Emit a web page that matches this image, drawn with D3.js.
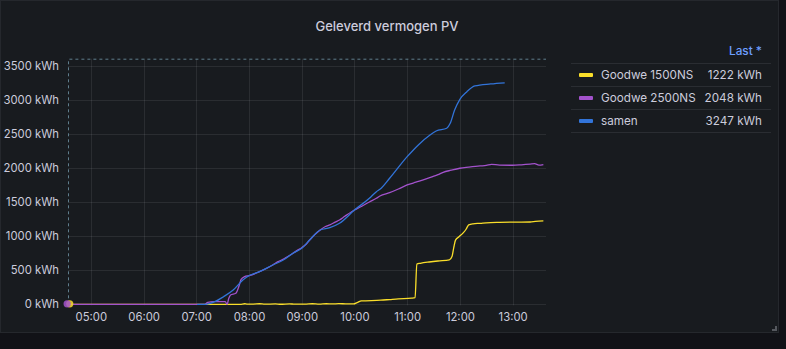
<!DOCTYPE html>
<html>
<head>
<meta charset="utf-8">
<script src="https://cdn.jsdelivr.net/npm/d3@7/dist/d3.min.js"></script>
<style>
  html, body { margin: 0; padding: 0; background: #111217; }
  svg { display: block; font-family: Inter, "Noto Sans", sans-serif; }
</style>
</head>
<body>
<svg id="chart" width="786" height="349"></svg>
<script>
// Cumulative delivered energy per inverter (kWh), sampled by time of day
const goodwe1500 = [
  ["04:36",0],["07:41",0],["07:50",0],["07:55",8],["07:58",2],["08:05",3],["08:12",8],["08:18",2],
  ["08:30",6],["08:36",1],["08:46",7],["08:52",2],["09:05",4],["09:12",8],["09:20",3],["09:28",8],
  ["09:35",6],["09:42",9],["09:50",7],["09:59",6],["10:03",25],["10:08",50],["10:30",60],["10:40",70],
  ["10:50",80],["11:05",90],["11:09",97],["11:11",590],["11:15",601],["11:25",620],["11:35",635],
  ["11:48",650],["11:51",700],["11:53",830],["11:55",940],["11:59",990],["12:04",1050],["12:07",1100],
  ["12:10",1165],["12:15",1180],["12:23",1187],["12:30",1195],["12:45",1202],["13:00",1205],
  ["13:20",1206],["13:26",1215],["13:35",1222]
];
const goodwe2500 = [
  ["04:36",0],["07:10",0],["07:13",29],["07:20",38],["07:33",40],["07:35",0],["07:37",88],["07:39",136],
  ["07:45",161],["07:49",283],["07:51",366],["07:55",405],["08:00",420],["08:12",478],["08:27",576],
  ["08:33",625],["08:38",655],["08:50",748],["08:55",790],["09:00",830],["09:05",880],["09:09",943],
  ["09:21",1089],["09:27",1140],["09:32",1165],["09:38",1205],["09:43",1236],["09:49",1290],["10:00",1382],
  ["10:06",1422],["10:17",1500],["10:25",1554],["10:29",1588],["10:40",1636],["10:50",1690],["11:00",1749],
  ["11:10",1790],["11:20",1830],["11:29",1871],["11:35",1900],["11:41",1935],["11:50",1965],["12:00",1994],
  ["12:10",2010],["12:23",2028],["12:30",2035],["12:36",2052],["12:45",2040],["13:00",2038],["13:10",2045],
  ["13:20",2055],["13:25",2061],["13:30",2040],["13:35",2048]
];
const samen = [
  ["07:01",0],["07:10",0],["07:21",38],["07:31",111],["07:42",210],["07:53",356],["07:58",405],["08:12",478],
  ["08:27",576],["08:39",649],["08:50",748],["09:00",821],["09:09",943],["09:21",1089],["09:32",1123],
  ["09:43",1187],["10:00",1382],["10:17",1554],["10:25",1651],["10:29",1686],["10:40",1847],["11:00",2164],
  ["11:13",2340],["11:26",2482],["11:33",2540],["11:45",2580],["11:49",2653],["11:54",2848],["12:00",3005],
  ["12:08",3117],["12:17",3200],["12:35",3230],["12:51",3247]
];
// Lone samples before the continuous series begin
const isolated = [
  { name: "Goodwe 2500NS", time: "04:33", value: 0 },
  { name: "Goodwe 1500NS", time: "04:36", value: 0 }
];

const seriesNames = ["Goodwe 1500NS", "Goodwe 2500NS", "samen"];
const seriesColors = ["#fade2a", "#a352cc", "#3274d9"];
const seriesData = [goodwe1500, goodwe2500, samen];

const timeRange = ["04:34", "13:38"];
const xTickLabels = ["05:00","06:00","07:00","08:00","09:00","10:00","11:00","12:00","13:00"];
const yTicks = [0, 500, 1000, 1500, 2000, 2500, 3000, 3500];
const yMax = 3600;
const title = "Geleverd vermogen PV";
const legendHeader = "Last *";

const parseTime = d3.timeParse("%H:%M");
const svg = d3.select("#chart");
const textColor = "#ccccdc";
const fontSize = 11.3;

// Panel
svg.append("rect").attr("x", 0.5).attr("y", 0.5).attr("width", 778).attr("height", 332)
  .attr("fill", "#181b1f").attr("stroke", "#25282d");
svg.append("path").attr("d", "M772,331 h5 v-5 h-2 v3 h-3 z").attr("fill", "#55585e");

svg.append("text").attr("x", 387).attr("y", 26).attr("text-anchor", "middle")
  .attr("dominant-baseline", "central").attr("fill", textColor)
  .attr("font-size", 13).attr("font-weight", 500).text(title);

const plot = { left: 68, right: 546, top: 58.7, bottom: 304.3 };
const x = d3.scaleTime().domain(timeRange.map(parseTime)).range([plot.left, plot.right]);
const y = d3.scaleLinear().domain([0, yMax]).range([plot.bottom, plot.top]);

// Grid
const grid = svg.append("g").attr("stroke", "rgba(204,204,220,0.1)").attr("stroke-width", 1);
xTickLabels.forEach(t => {
  const px = Math.round(x(parseTime(t))) + 0.5;
  grid.append("line").attr("x1", px).attr("x2", px).attr("y1", plot.top).attr("y2", plot.bottom + 1);
});
yTicks.forEach(v => {
  const py = Math.round(y(v)) + 0.5;
  grid.append("line").attr("x1", plot.left).attr("x2", plot.right).attr("y1", py).attr("y2", py);
});

// Axes
const yAxis = d3.axisLeft(y).tickValues(yTicks).tickSize(0).tickPadding(9).tickFormat(d => d + " kWh");
svg.append("g").attr("transform", `translate(${plot.left},0)`).call(yAxis)
  .call(g => g.select(".domain").remove())
  .call(g => g.selectAll("text").attr("fill", textColor).attr("font-size", fontSize)
    .attr("font-family", "Inter, 'Noto Sans', sans-serif"));

const xAxis = d3.axisBottom(x).tickValues(xTickLabels.map(parseTime)).tickSize(0).tickPadding(9)
  .tickFormat(d3.timeFormat("%H:%M"));
svg.append("g").attr("transform", `translate(0,${plot.bottom})`).call(xAxis)
  .call(g => g.select(".domain").remove())
  .call(g => g.selectAll("text").attr("fill", textColor).attr("font-size", fontSize)
    .attr("font-family", "Inter, 'Noto Sans', sans-serif"));

// Dashed region outline
svg.append("path")
  .attr("d", `M${plot.left + 0.5},${plot.bottom - 6} V${plot.top + 0.5} H${plot.right}`)
  .attr("fill", "none").attr("stroke", "#5f7d8c").attr("stroke-width", 1)
  .attr("stroke-dasharray", "3,3");

// Series lines
const line = d3.line()
  .x(d => x(parseTime(d[0])))
  .y(d => y(d[1]))
  .curve(d3.curveMonotoneX);

seriesData.forEach((data, i) => {
  svg.append("path").datum(data).attr("d", line)
    .attr("fill", "none").attr("stroke", seriesColors[i]).attr("stroke-width", 1.3)
    .attr("stroke-linejoin", "round");
});

// Lone points
isolated.slice().reverse().forEach(p => {
  const c = seriesColors[seriesNames.indexOf(p.name)];
  svg.append("circle").attr("cx", x(parseTime(p.time))).attr("cy", y(p.value) - 0.5).attr("r", 3.6)
    .attr("fill", c).attr("opacity", 0.85);
});

// Legend table
const lg = svg.append("g");
lg.append("text").attr("x", 762).attr("y", 51).attr("text-anchor", "end")
  .attr("dominant-baseline", "central").attr("fill", "#6e9fff").attr("font-size", fontSize + 0.5)
  .attr("font-weight", 500).text(legendHeader);

const rowY = [75, 98, 121];
const sepY = [63.5, 86.5, 109.5, 132.5];
sepY.forEach(sy => {
  lg.append("line").attr("x1", 571).attr("x2", 771).attr("y1", sy).attr("y2", sy)
    .attr("stroke", "#2a2d32");
});
seriesNames.forEach((name, i) => {
  const data = seriesData[i];
  const last = data[data.length - 1][1];
  lg.append("rect").attr("x", 579).attr("y", rowY[i] - 2).attr("width", 14).attr("height", 4)
    .attr("rx", 1).attr("fill", seriesColors[i]);
  lg.append("text").attr("x", 601).attr("y", rowY[i]).attr("dominant-baseline", "central")
    .attr("fill", textColor).attr("font-size", fontSize + 0.4).text(name);
  lg.append("text").attr("x", 762).attr("y", rowY[i]).attr("text-anchor", "end")
    .attr("dominant-baseline", "central").attr("fill", textColor).attr("font-size", fontSize + 0.4)
    .text(last + " kWh");
});
</script>
</body>
</html>
